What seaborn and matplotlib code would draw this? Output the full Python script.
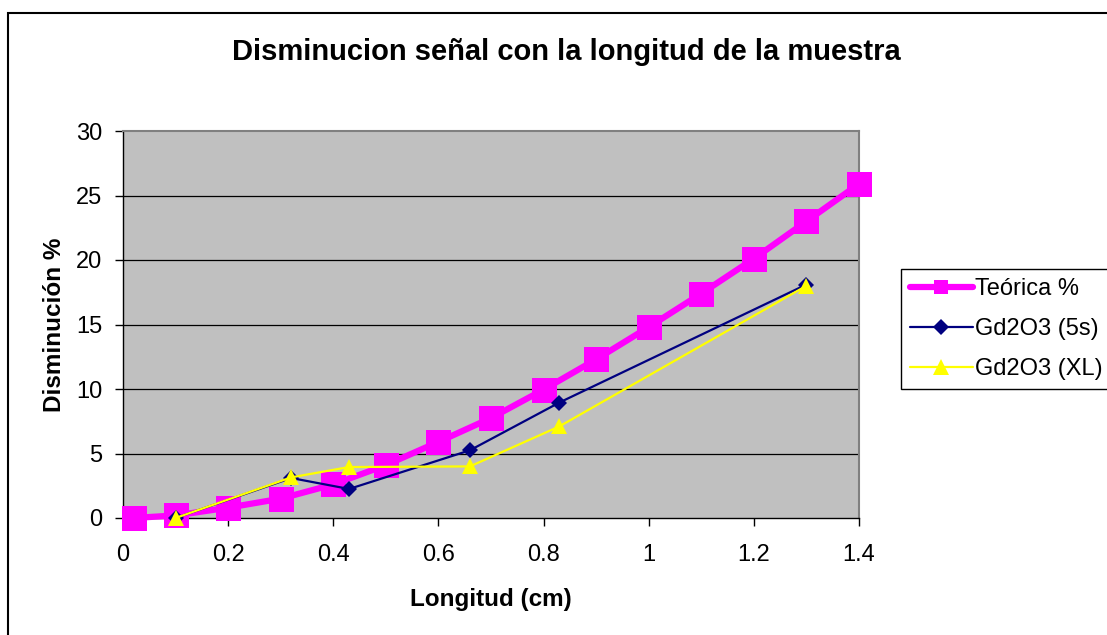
import matplotlib
matplotlib.use("Agg")
import matplotlib.pyplot as plt
from matplotlib.patches import Rectangle
from matplotlib.lines import Line2D
import seaborn as sns
import pandas as pd

# Theoretical signal loss vs sample length
x_teorica = [0.02, 0.1, 0.2, 0.3, 0.4, 0.5, 0.6, 0.7, 0.8, 0.9, 1.0, 1.1, 1.2, 1.3, 1.4]
y_teorica = [0.0, 0.2, 0.8, 1.5, 2.6, 4.1, 5.9, 7.75, 9.95, 12.3, 14.8, 17.4, 20.1, 23.0, 25.9]

# Measured: Gd2O3 (5s)
x_5s = [0.1, 0.32, 0.43, 0.66, 0.83, 1.3]
y_5s = [0.0, 3.1, 2.25, 5.25, 8.95, 18.1]

# Measured: Gd2O3 (XL)
x_xl = [0.1, 0.32, 0.43, 0.66, 0.83, 1.3]
y_xl = [0.0, 3.15, 3.95, 4.0, 7.1, 18.0]

series_names = ["Teórica %", "Gd2O3 (5s)", "Gd2O3 (XL)"]
x_ticks = [0, 0.2, 0.4, 0.6, 0.8, 1.0, 1.2, 1.4]
x_tick_labels = ["0", "0.2", "0.4", "0.6", "0.8", "1", "1.2", "1.4"]
y_ticks = [0, 5, 10, 15, 20, 25, 30]

sns.set_theme(style="white")
plt.rcParams["font.family"] = ["Liberation Sans", "DejaVu Sans"]
plt.rcParams["text.color"] = "#000000"
plt.rcParams["axes.labelcolor"] = "#000000"
plt.rcParams["xtick.color"] = "#000000"
plt.rcParams["ytick.color"] = "#000000"

W, H = 1107, 635
fig = plt.figure(figsize=(W / 100, H / 100), dpi=100)
fig.patch.set_facecolor("white")

# plot area in pixel coordinates
left, right, top, bottom = 123, 859, 131, 518
ax = fig.add_axes([left / W, 1 - bottom / H, (right - left) / W, (bottom - top) / H])
ax.set_facecolor("#C0C0C0")

df_t = pd.DataFrame({"x": x_teorica, "y": y_teorica})
df_5 = pd.DataFrame({"x": x_5s, "y": y_5s})
df_x = pd.DataFrame({"x": x_xl, "y": y_xl})

sns.lineplot(data=df_t, x="x", y="y", ax=ax, color="#FF00FF", linewidth=4.5,
             marker="s", markersize=18, markeredgewidth=0, sort=False, zorder=3,
             clip_on=False)
sns.lineplot(data=df_5, x="x", y="y", ax=ax, color="#000080", linewidth=1.6,
             marker="D", markersize=8, markeredgewidth=0, sort=False, zorder=4,
             clip_on=False)
sns.lineplot(data=df_x, x="x", y="y", ax=ax, color="#FFFF00", linewidth=1.6,
             marker="^", markersize=12, markeredgewidth=0, sort=False, zorder=5,
             clip_on=False)

ax.set_xlim(0, 1.4)
ax.set_ylim(0, 30)
ax.set_xticks(x_ticks)
ax.set_xticklabels(x_tick_labels)
ax.set_yticks(y_ticks)

for v in y_ticks[1:-1]:
    ax.axhline(v, color="#000000", linewidth=0.9, zorder=1)

for side in ["top", "right"]:
    ax.spines[side].set_color("#808080")
    ax.spines[side].set_linewidth(1.5)
for side in ["left", "bottom"]:
    ax.spines[side].set_color("#000000")
    ax.spines[side].set_linewidth(1.0)

ax.tick_params(axis="x", which="major", direction="out", length=6, width=1,
               color="#000000", labelsize=17, pad=13, bottom=True)
ax.tick_params(axis="y", which="major", direction="out", length=6, width=1,
               color="#000000", labelsize=17, pad=9, left=True)

ax.set_xlabel("Longitud (cm)", fontsize=17.5, fontweight="bold")
ax.set_ylabel("Disminución %", fontsize=17.5, fontweight="bold")
ax.xaxis.set_label_coords(0.5, -0.182)
ax.yaxis.set_label_coords(-0.077, 0.5)

fig.text(566 / W, 1 - 52 / H, "Disminucion señal con la longitud de la muestra",
         ha="center", va="center", fontsize=21, fontweight="bold")

handles = [
    Line2D([], [], color="#FF00FF", linewidth=4.5, marker="s", markersize=10, markeredgewidth=0),
    Line2D([], [], color="#000080", linewidth=1.6, marker="D", markersize=8, markeredgewidth=0),
    Line2D([], [], color="#FFFF00", linewidth=1.6, marker="^", markersize=12, markeredgewidth=0),
]
leg = fig.legend(handles, series_names, loc="upper left",
                 bbox_to_anchor=(901 / W, 1 - 269 / H), bbox_transform=fig.transFigure,
                 fontsize=17, frameon=True, fancybox=False, framealpha=1,
                 edgecolor="#000000", handlelength=2.65, handletextpad=0.1,
                 labelspacing=0.76, borderpad=0.38, borderaxespad=0)
leg.get_frame().set_linewidth(1.0)

# outer chart frame
fig.patches.append(Rectangle((8 / W, -0.2), 1.2, 1 - 13 / H + 0.2,
                             transform=fig.transFigure, fill=False,
                             edgecolor="#000000", linewidth=1.5, zorder=0))

fig.savefig("out.png", dpi=100)
